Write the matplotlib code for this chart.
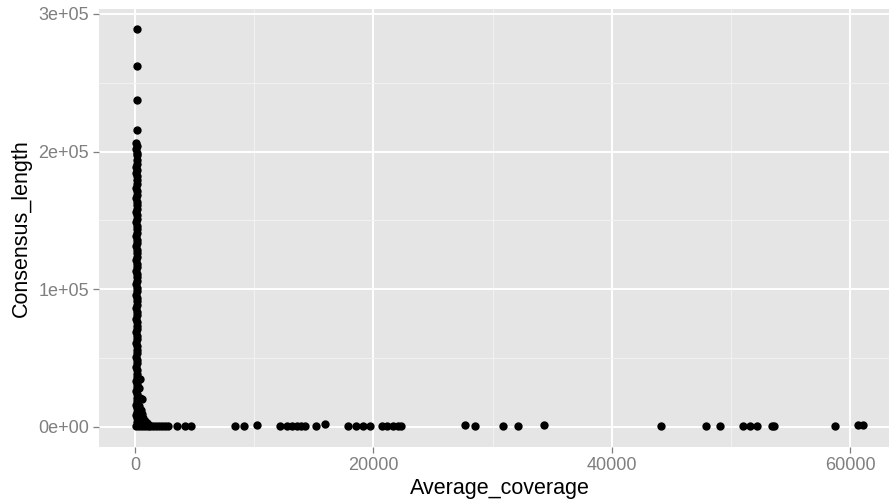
import matplotlib
matplotlib.use("Agg")
import matplotlib.pyplot as plt
import numpy as np

plt.rcParams['font.family'] = ['Liberation Sans', 'DejaVu Sans']

# long contigs, low coverage (the vertical column at x~0)
col_cov = [140, 130, 150, 140,
           120, 160, 110, 150, 130, 140, 170, 120, 150, 110, 160, 130,
           140, 120, 170, 150, 110, 160, 130, 140, 120, 150, 170, 110,
           160, 130, 140, 120, 150, 170, 110, 160, 130, 140, 120, 150,
           170, 110, 160, 130, 140, 120, 150, 170, 110, 160, 130, 140,
           120, 150, 170, 110, 160, 130, 140, 120, 150, 170, 110, 160,
           130, 140, 120, 150, 170, 110, 160, 130, 140, 120, 150, 170,
           110, 160, 130, 140, 120, 150, 170, 110, 160, 130]
col_len = [289000, 261800, 237600, 215800,
           206400, 204000, 201500, 199000, 197500, 193500, 191000, 189000,
           186500, 184500, 182000, 179500, 176500, 173500, 171000, 168500,
           166000, 163500, 161000, 158500, 156000, 153500, 151000, 148500,
           146000, 143500, 141000, 138500, 136000, 133500, 131000, 128500,
           126000, 123500, 121000, 118500, 116000, 113500, 111000, 108500,
           106000, 103500, 101000, 98500, 96000, 93500, 91000, 88500,
           86000, 83500, 81000, 78500, 76000, 73500, 71000, 68500,
           66000, 63500, 61000, 58500, 56000, 53500, 51000, 48500,
           46000, 43500, 41000, 38500, 36000, 33500, 31000, 28500,
           26000, 23500, 21000, 18500, 16000, 13500, 11000, 8500,
           6000, 3500]

# short contigs near the elbow
base_cov = [420, 300, 450, 560, 350, 500, 600, 700, 850, 1000, 400, 250,
            650, 50, 300, 550, 800, 1050, 1300, 1550, 1800, 2050, 2300,
            2550, 2800, 1200, 900]
base_len = [35000, 28000, 21000, 20300, 15000, 12000, 9000, 6000, 4000,
            2500, 5000, 8000, 3000, 500, 700, 600, 800, 600, 500, 700,
            600, 500, 600, 500, 400, 1500, 2000]

# high coverage contigs along the bottom
tail_cov = [3550, 4200, 4670, 8390, 9170, 10210, 12170, 12730, 13170,
            13590, 13930, 14270, 15190, 15940, 17910, 18510, 19120, 19740,
            20710, 21160, 21620, 22080, 22300, 27670, 28490, 30860, 32150,
            34350, 44110, 47920, 49080, 51010, 51610, 52220, 53440, 53650,
            58740, 60670, 61120]
tail_len = [500, 500, 500, 400, 500, 1200, 500, 400, 500,
            400, 600, 500, 600, 1900, 600, 400, 500, 500,
            500, 400, 600, 500, 700, 1100, 500, 300, 600,
            900, 400, 200, 800, 300, 400, 500, 600, 500,
            500, 1300, 900]

x_ticks = [0, 20000, 40000, 60000]
x_tick_labels = ["0", "20000", "40000", "60000"]
y_ticks = [0, 100000, 200000, 300000]
y_tick_labels = ["0e+00", "1e+05", "2e+05", "3e+05"]

x = col_cov + base_cov + tail_cov
y = col_len + base_len + tail_len

fig = plt.figure(figsize=(8.89, 5.04), dpi=100)
ax = fig.add_axes([0.1119, 0.1137, 0.8881, 0.8694])
ax.set_facecolor("#E5E5E5")
for s in ax.spines.values():
    s.set_visible(False)

ax.scatter(x, y, s=36, c="black", linewidths=0, zorder=3)

ax.set_xlim(-2980, 63270)
ax.set_ylim(-14535, 303920)
ax.set_xticks(x_ticks)
ax.set_xticklabels(x_tick_labels)
ax.set_yticks(y_ticks)
ax.set_yticklabels(y_tick_labels)
ax.set_xticks([10000, 30000, 50000], minor=True)
ax.set_yticks([50000, 150000, 250000], minor=True)

ax.grid(which="major", color="white", lw=1.4)
ax.grid(which="minor", color="#F2F2F2", lw=0.7)
ax.set_axisbelow(True)
ax.tick_params(which="major", length=4.5, width=0.9, color="#7F7F7F",
               labelcolor="#7F7F7F", labelsize=13, pad=3)
ax.tick_params(which="minor", length=0)

fig.text(0.5619, 0.03, "Average_coverage", ha="center", va="center", fontsize=15.5)
fig.text(0.0236, 0.548, "Consensus_length", ha="center", va="center",
         rotation=90, fontsize=15.5)

fig.savefig("out.png", dpi=100)
